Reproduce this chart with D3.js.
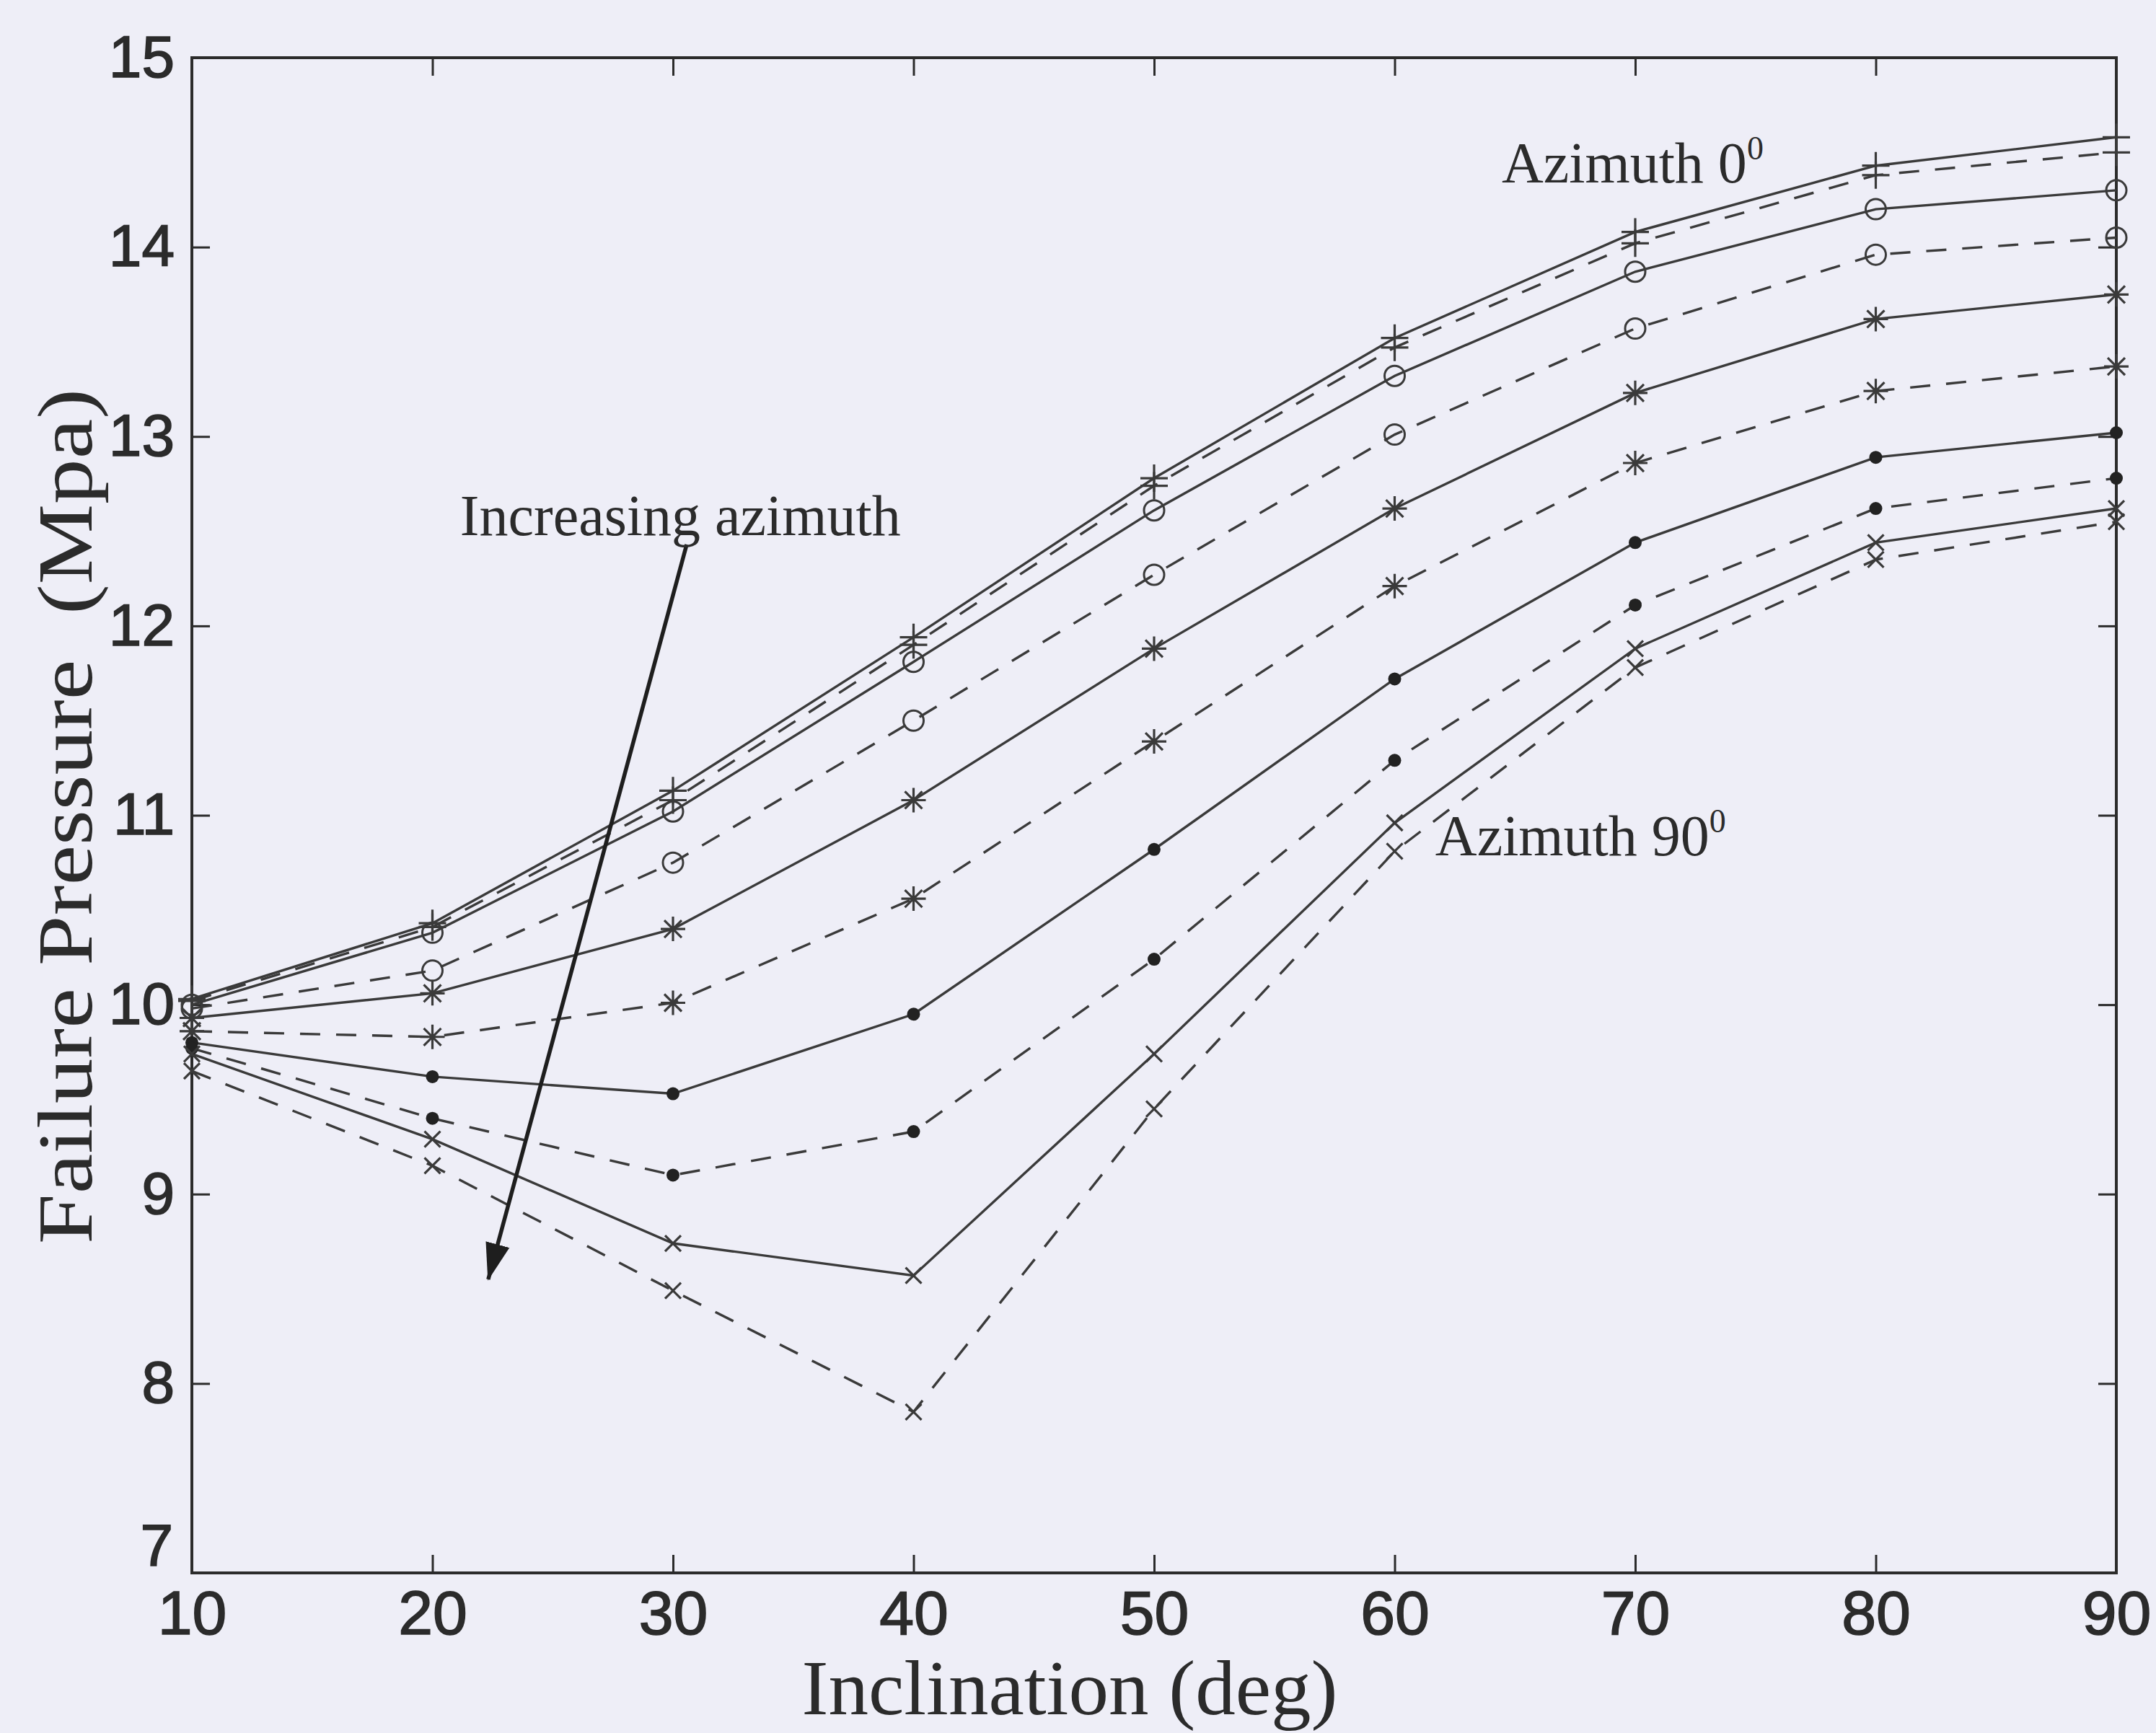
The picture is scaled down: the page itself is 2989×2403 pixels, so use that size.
<!DOCTYPE html>
<html>
<head>
<meta charset="utf-8">
<script src="https://cdn.jsdelivr.net/npm/d3@7"></script>
<style>
  html, body { margin: 0; padding: 0; background: #eeeef7; }
  svg { display: block; }
</style>
</head>
<body>
<div id="chart"></div>
<script>
// failure pressure vs inclination, one line per azimuth

const inclination = [10, 20, 30, 40, 50, 60, 70, 80, 90];
const azimuths = [0, 10, 20, 30, 40, 50, 60, 70, 80, 90];

const az0  = [10.03, 10.43, 11.13, 11.94, 12.78, 13.52, 14.08, 14.43, 14.58];
const az10 = [10.02, 10.41, 11.08, 11.90, 12.74, 13.47, 14.02, 14.38, 14.50];
const az20 = [10.00, 10.38, 11.02, 11.81, 12.61, 13.32, 13.87, 14.20, 14.30];
const az30 = [9.98, 10.18, 10.75, 11.50, 12.27, 13.01, 13.57, 13.96, 14.05];
const az40 = [9.93, 10.06, 10.40, 11.08, 11.88, 12.62, 13.23, 13.62, 13.75];
const az50 = [9.86, 9.83, 10.01, 10.56, 11.39, 12.21, 12.86, 13.24, 13.37];
const az60 = [9.80, 9.62, 9.53, 9.95, 10.82, 11.72, 12.44, 12.89, 13.02];
const az70 = [9.77, 9.40, 9.10, 9.33, 10.24, 11.29, 12.11, 12.62, 12.78];
const az80 = [9.74, 9.29, 8.74, 8.57, 9.74, 10.96, 11.88, 12.44, 12.62];
const az90 = [9.65, 9.15, 8.49, 7.85, 9.45, 10.81, 11.78, 12.35, 12.55];

const markerTypes = ["plus", "plus", "circle", "circle", "star", "star", "dot", "dot", "cross", "cross"];

const xTicks = [10, 20, 30, 40, 50, 60, 70, 80, 90];
const yTicks = [7, 8, 9, 10, 11, 12, 13, 14, 15];

const width = 2989;
const height = 2403;
const margin = { top: 80, right: 55, bottom: 222, left: 266 };

const ink = "#2b2b2b";
const lineInk = "#3a3a3a";
const serif = "'Liberation Serif', 'Times New Roman', serif";
const sans = "'Liberation Sans', Arial, Helvetica, sans-serif";

const seriesValues = [az0, az10, az20, az30, az40, az50, az60, az70, az80, az90];
const series = azimuths.map((az, i) => ({
  azimuth: az,
  marker: markerTypes[i],
  dashed: i % 2 === 1,
  points: inclination.map((inc, j) => ({ inc, p: seriesValues[i][j] }))
}));

const svg = d3.select("#chart")
  .append("svg")
  .attr("width", width)
  .attr("height", height)
  .style("background", "#eeeef7");

const x = d3.scaleLinear()
  .domain([10, 90])
  .range([margin.left, width - margin.right]);

const y = d3.scaleLinear()
  .domain([7, 15])
  .range([height - margin.bottom, margin.top]);

const tickLen = 25;

// axes (ticks inward on all four sides)
const yAxis = svg.append("g")
  .attr("transform", `translate(${x.range()[0]},0)`)
  .call(d3.axisLeft(y).tickValues(yTicks).tickSize(-tickLen).tickPadding(24).tickSizeOuter(0));

const xAxis = svg.append("g")
  .attr("transform", `translate(0,${y.range()[0]})`)
  .call(d3.axisBottom(x).tickValues(xTicks).tickSize(-tickLen).tickPadding(24).tickSizeOuter(0));

svg.append("g")
  .attr("transform", `translate(0,${y.range()[1]})`)
  .call(d3.axisTop(x).tickValues(xTicks).tickSize(-tickLen).tickFormat("").tickSizeOuter(0));

svg.append("g")
  .attr("transform", `translate(${x.range()[1]},0)`)
  .call(d3.axisRight(y).tickValues(yTicks).tickSize(-tickLen).tickFormat("").tickSizeOuter(0));

svg.selectAll(".domain").remove();
svg.selectAll(".tick line").attr("stroke", ink).attr("stroke-width", 3);

yAxis.selectAll("text")
  .attr("fill", ink)
  .attr("stroke", ink)
  .attr("stroke-width", 1.6)
  .attr("font-size", 82)
  .attr("font-family", sans);

// the lowest label sits a little above its tick, clear of the x labels
yAxis.selectAll(".tick text")
  .filter(d => d === 7)
  .attr("dy", "-0.13em")
  .attr("x", -26);

xAxis.selectAll("text")
  .attr("fill", ink)
  .attr("stroke", ink)
  .attr("stroke-width", 1.6)
  .attr("font-size", 86)
  .attr("font-family", sans);

svg.append("rect")
  .attr("x", x.range()[0])
  .attr("y", y.range()[1])
  .attr("width", x.range()[1] - x.range()[0])
  .attr("height", y.range()[0] - y.range()[1])
  .attr("fill", "none")
  .attr("stroke", ink)
  .attr("stroke-width", 4);

// lines
const line = d3.line()
  .x(d => x(d.inc))
  .y(d => y(d.p));

const plot = svg.append("g");

plot.selectAll("path.series")
  .data(series)
  .join("path")
  .attr("class", "series")
  .attr("fill", "none")
  .attr("stroke", lineInk)
  .attr("stroke-width", 3.4)
  .attr("stroke-dasharray", d => (d.dashed ? "28,22" : null))
  .attr("d", d => line(d.points));

// markers
function markerPath(type) {
  const p = d3.path();
  if (type === "plus") {
    const s = 19;
    p.moveTo(-s, 0); p.lineTo(s, 0);
    p.moveTo(0, -s); p.lineTo(0, s);
  } else if (type === "cross") {
    const s = 11;
    p.moveTo(-s, -s); p.lineTo(s, s);
    p.moveTo(-s, s); p.lineTo(s, -s);
  } else if (type === "star") {
    const s = 17, t = 12;
    p.moveTo(-s, 0); p.lineTo(s, 0);
    p.moveTo(0, -s); p.lineTo(0, s);
    p.moveTo(-t, -t); p.lineTo(t, t);
    p.moveTo(-t, t); p.lineTo(t, -t);
  }
  return p.toString();
}

series.forEach(s => {
  const g = plot.append("g");
  const pts = g.selectAll("g.pt")
    .data(s.points)
    .join("g")
    .attr("class", "pt")
    .attr("transform", d => `translate(${x(d.inc)},${y(d.p)})`);

  if (s.marker === "circle") {
    pts.append("circle")
      .attr("r", 14)
      .attr("fill", "none")
      .attr("stroke", lineInk)
      .attr("stroke-width", 3);
  } else if (s.marker === "dot") {
    pts.append("circle")
      .attr("r", 9)
      .attr("fill", "#222");
  } else {
    pts.append("path")
      .attr("d", markerPath(s.marker))
      .attr("fill", "none")
      .attr("stroke", lineInk)
      .attr("stroke-width", 3.2);
  }
});

// annotations
svg.append("defs")
  .append("marker")
  .attr("id", "arrowhead")
  .attr("markerUnits", "userSpaceOnUse")
  .attr("viewBox", "0 0 52 40")
  .attr("markerWidth", 52)
  .attr("markerHeight", 40)
  .attr("refX", 50)
  .attr("refY", 20)
  .attr("orient", "auto")
  .append("path")
  .attr("d", "M0,3 L52,20 L0,37 Z")
  .attr("fill", "#1e1e1e");

const arrowFrom = [30.57, 12.43];
const arrowTo = [22.32, 8.55];

svg.append("line")
  .attr("x1", x(arrowFrom[0]))
  .attr("y1", y(arrowFrom[1]))
  .attr("x2", x(arrowTo[0]))
  .attr("y2", y(arrowTo[1]))
  .attr("stroke", "#1e1e1e")
  .attr("stroke-width", 5.5)
  .attr("marker-end", "url(#arrowhead)");

svg.append("text")
  .attr("x", x(21.15))
  .attr("y", y(12.48))
  .attr("fill", ink)
  .attr("font-size", 80)
  .attr("font-family", serif)
  .text("Increasing azimuth");

function azLabel(label, px, py) {
  const t = svg.append("text")
    .attr("x", x(px))
    .attr("y", y(py))
    .attr("fill", ink)
    .attr("font-size", 80)
    .attr("font-family", serif);
  t.append("tspan").text(label);
  t.append("tspan")
    .attr("font-size", 46)
    .attr("dy", -32)
    .text("0");
}

azLabel("Azimuth 0", 64.45, 14.34);
azLabel("Azimuth 90", 61.69, 10.79);

// axis titles
svg.append("text")
  .attr("x", 1483)
  .attr("y", 2377)
  .attr("text-anchor", "middle")
  .attr("fill", ink)
  .attr("font-size", 108)
  .attr("font-family", serif)
  .attr("textLength", 743)
  .attr("lengthAdjust", "spacingAndGlyphs")
  .text("Inclination (deg)");

svg.append("text")
  .attr("transform", "translate(127,1132) rotate(-90)")
  .attr("text-anchor", "middle")
  .attr("fill", ink)
  .attr("font-size", 108)
  .attr("font-family", serif)
  .attr("textLength", 1186)
  .attr("lengthAdjust", "spacingAndGlyphs")
  .attr("xml:space", "preserve")
  .text("Failure Pressure  (Mpa)");
</script>
</body>
</html>
